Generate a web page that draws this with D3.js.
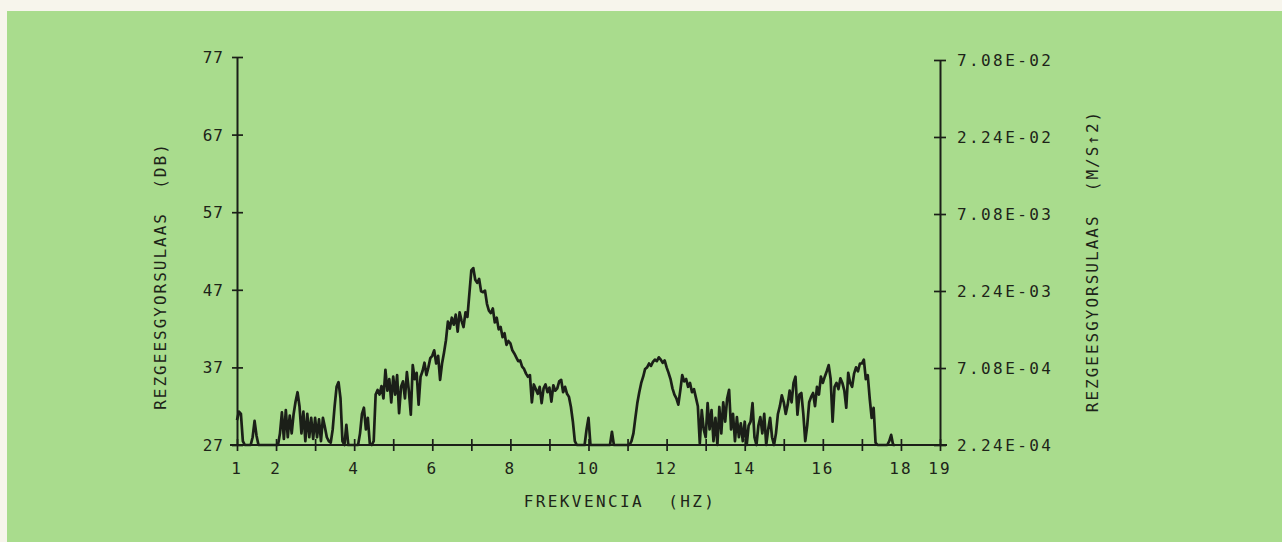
<!DOCTYPE html>
<html lang="hu">
<head>
<meta charset="utf-8">
<title>Rezgesgyorsulas spektrum</title>
<script src="https://d3js.org/d3.v7.min.js"></script>
<style>
  body { margin: 0; background: #f7f5ec; }
  svg { display: block; }
  text { font-family: "DejaVu Sans Mono", monospace; fill: #1d2419; }
</style>
</head>
<body>
<div id="chart"></div>
<script>
var width = 1282;
var height = 542;

// tick labels
const dbTicks = [27, 37, 47, 57, 67, 77];
const accelTicks = [2.24e-4, 7.08e-4, 2.24e-3, 7.08e-3, 2.24e-2, 7.08e-2];
const accelLabels = ["2.24E-04", "7.08E-04", "2.24E-03", "7.08E-03", "2.24E-02", "7.08E-02"];
const freqTicks = [1, 2, 3, 4, 5, 6, 7, 8, 9, 10, 11, 12, 13, 14, 15, 16, 17, 18, 19];
const freqLabels = [1, 2, 4, 6, 8, 10, 12, 14, 16, 18, 19];

// spectrum, read every 0.05 Hz starting at 1.00 Hz (dB)
const freqStart = 1.0;
const freqStep = 0.05;
const levelDb = [
  30.2,31.3,31.0,27.5,27,27,27,27,28,30.1,28.2,27,27,27,27,27,27,27,27,27,            // 1 Hz
  27,27,28.5,31.2,27.8,31.5,28,30.8,28.5,31,32.6,33.8,32,28.5,31.3,27.5,31,28,30.5,27.8, // 2
  30.5,28,30.3,27.5,30.5,29.3,28,27.5,27.3,29,32,34.5,35.1,33,27.5,27,29.6,27,27,27,   // 3
  27,27,27,28.5,31,31.8,29,30.5,27.2,27,27.5,33.5,34.1,33.5,34.6,33,36.7,34,35.5,32.5, // 4
  35.8,33.5,36,31.1,34.5,35.2,33,36.4,34,30.9,37.3,35.5,36.3,32.2,35.8,36.5,37.6,36,37,38.2, // 5
  38.5,39.2,37.5,38.5,35.4,37.5,38.9,40.5,42.9,42,43.4,42.5,43.8,41.6,44.1,43,42.2,44.1,43.5,46.5, // 6
  49.5,49.8,48.3,47.9,48.4,46.8,46.7,46.9,45.2,44.3,44,44.6,42.8,43.4,41.9,42.2,40.9,41.4,39.9,40.4, // 7
  40.1,39.2,38.8,38.3,37.8,37.9,37.1,36.8,36.2,35.8,36,32.5,34.8,34.2,33.6,34.5,32.4,34.3,34.8,33.8, // 8
  34.4,32.6,34.7,34,34.3,35.2,35.4,33.8,34.5,33.6,33.2,31.9,30,27.5,27,27,27,27,27,29, // 9
  30.5,27,27,27,27,27,27,27,27,27,27,27,28.7,27,27,27,27,27,27,27,                     // 10
  27,27,27.5,28.5,30.5,32.4,33.8,35,35.8,36.8,37,37.5,37.2,37.7,38,37.8,38.3,38,37.6,37.9, // 11
  37,36.3,35.5,34.3,33.5,33,32.2,34,36,35.2,35.5,34.5,35,33.8,34.2,33.1,32,27.2,31.5,29, // 12
  28,32.4,29,31.5,27.5,30.5,27,31.9,28.5,32.5,30,33,34.1,29,31,27.5,30.6,28,29.8,27.5, // 13
  30,27,29.5,30,32.4,28,27,29.5,30.6,28.5,31,27,29,30.5,28,27,28.5,31,32,33.4,         // 14
  32.5,31,32.2,34,32.5,35,35.8,30.9,33.5,33.7,31,27.5,29.5,32.5,33.2,33.7,32,34.5,33.5,35.8, // 15
  35,35.8,36.5,37.3,35.5,30,34.5,35,34.2,35.6,35,34,31.8,36.3,35,34.5,36.2,37,36.5,37.5, // 16
  37.5,38,35.5,36,33,30.5,31.8,27.3,27,27,27,27,27,27,27.5,28.3,27,27                  // 17
];

const svg = d3.select("#chart")
    .append("svg")
    .attr("width", width)
    .attr("height", height);

// green paper
svg.append("rect")
    .attr("x", 7).attr("y", 11)
    .attr("width", width - 7).attr("height", height - 11)
    .attr("fill", "#a9dc8d");

var x = d3.scaleLinear().domain([1, 19]).range([237, 940]);
var y = d3.scaleLinear().domain([27, 77]).range([445, 57]);
var yR = d3.scaleLog().domain([2.24e-4, 7.08e-2]).range([445, 60]);

var ink = "#1b1f18";

// x axis
svg.append("line")
    .attr("x1", x.range()[0] - 7).attr("x2", x.range()[1] + 7)
    .attr("y1", y(27)).attr("y2", y(27))
    .attr("stroke", ink).attr("stroke-width", 2);

var xAxis = svg.append("g")
    .attr("transform", "translate(0," + y(27) + ")")
    .call(d3.axisBottom(x).tickValues(freqTicks).tickSize(6).tickSizeOuter(0).tickFormat(""));
xAxis.select(".domain").remove();
xAxis.selectAll(".tick line").attr("y1", -6).attr("stroke", ink).attr("stroke-width", 1.7);

svg.append("g").selectAll("text")
    .data(freqLabels)
    .join("text")
    .attr("x", d => x(d))
    .attr("y", 474)
    .attr("text-anchor", "middle")
    .attr("font-size", 16)
    .attr("letter-spacing", 2)
    .text(d => d);

// left axis
var yAxis = svg.append("g")
    .attr("transform", "translate(" + x(1) + ",0)")
    .call(d3.axisLeft(y).tickValues(dbTicks).tickSize(5).tickSizeOuter(0).tickFormat(""));
yAxis.select(".domain").attr("stroke", ink).attr("stroke-width", 2);
yAxis.selectAll(".tick line").attr("x1", 6).attr("stroke", ink).attr("stroke-width", 1.7);

svg.append("g").selectAll("text")
    .data(dbTicks)
    .join("text")
    .attr("x", 224)
    .attr("y", d => y(d) + 6)
    .attr("text-anchor", "end")
    .attr("font-size", 16)
    .attr("letter-spacing", 1)
    .text(d => d);

// right axis
var rAxis = svg.append("g")
    .attr("transform", "translate(" + x(19) + ",0)")
    .call(d3.axisRight(yR).tickValues(accelTicks).tickSize(6).tickSizeOuter(0).tickFormat(""));
rAxis.select(".domain").attr("stroke", ink).attr("stroke-width", 2);
rAxis.selectAll(".tick line").attr("x1", -6).attr("stroke", ink).attr("stroke-width", 1.7);

svg.append("g").selectAll("text")
    .data(accelTicks)
    .join("text")
    .attr("x", 957)
    .attr("y", d => yR(d) + 6)
    .attr("font-size", 16)
    .attr("letter-spacing", 2.4)
    .text((d, i) => accelLabels[i]);

// axis titles
svg.append("text")
    .attr("x", 620).attr("y", 507)
    .attr("text-anchor", "middle")
    .attr("font-size", 16)
    .attr("letter-spacing", 2.4)
    .attr("xml:space", "preserve")
    .text("FREKVENCIA  (HZ)");

svg.append("text")
    .attr("transform", "translate(166,276) rotate(-90)")
    .attr("text-anchor", "middle")
    .attr("font-size", 16)
    .attr("letter-spacing", 2)
    .attr("xml:space", "preserve")
    .text("REZGEESGYORSULAAS  (DB)");

svg.append("text")
    .attr("transform", "translate(1098,261) rotate(-90)")
    .attr("text-anchor", "middle")
    .attr("font-size", 16)
    .attr("letter-spacing", 2)
    .attr("xml:space", "preserve")
    .text("REZGEESGYORSULAAS  (M/S\u21912)");

// spectrum trace
var points = levelDb.map((v, i) => ({ f: freqStart + i * freqStep, db: v }));
var line = d3.line().x(d => x(d.f)).y(d => y(d.db));

svg.append("path")
    .datum(points)
    .attr("d", line)
    .attr("fill", "none")
    .attr("stroke", ink)
    .attr("stroke-width", 2.7)
    .attr("stroke-linejoin", "round");
</script>
</body>
</html>
